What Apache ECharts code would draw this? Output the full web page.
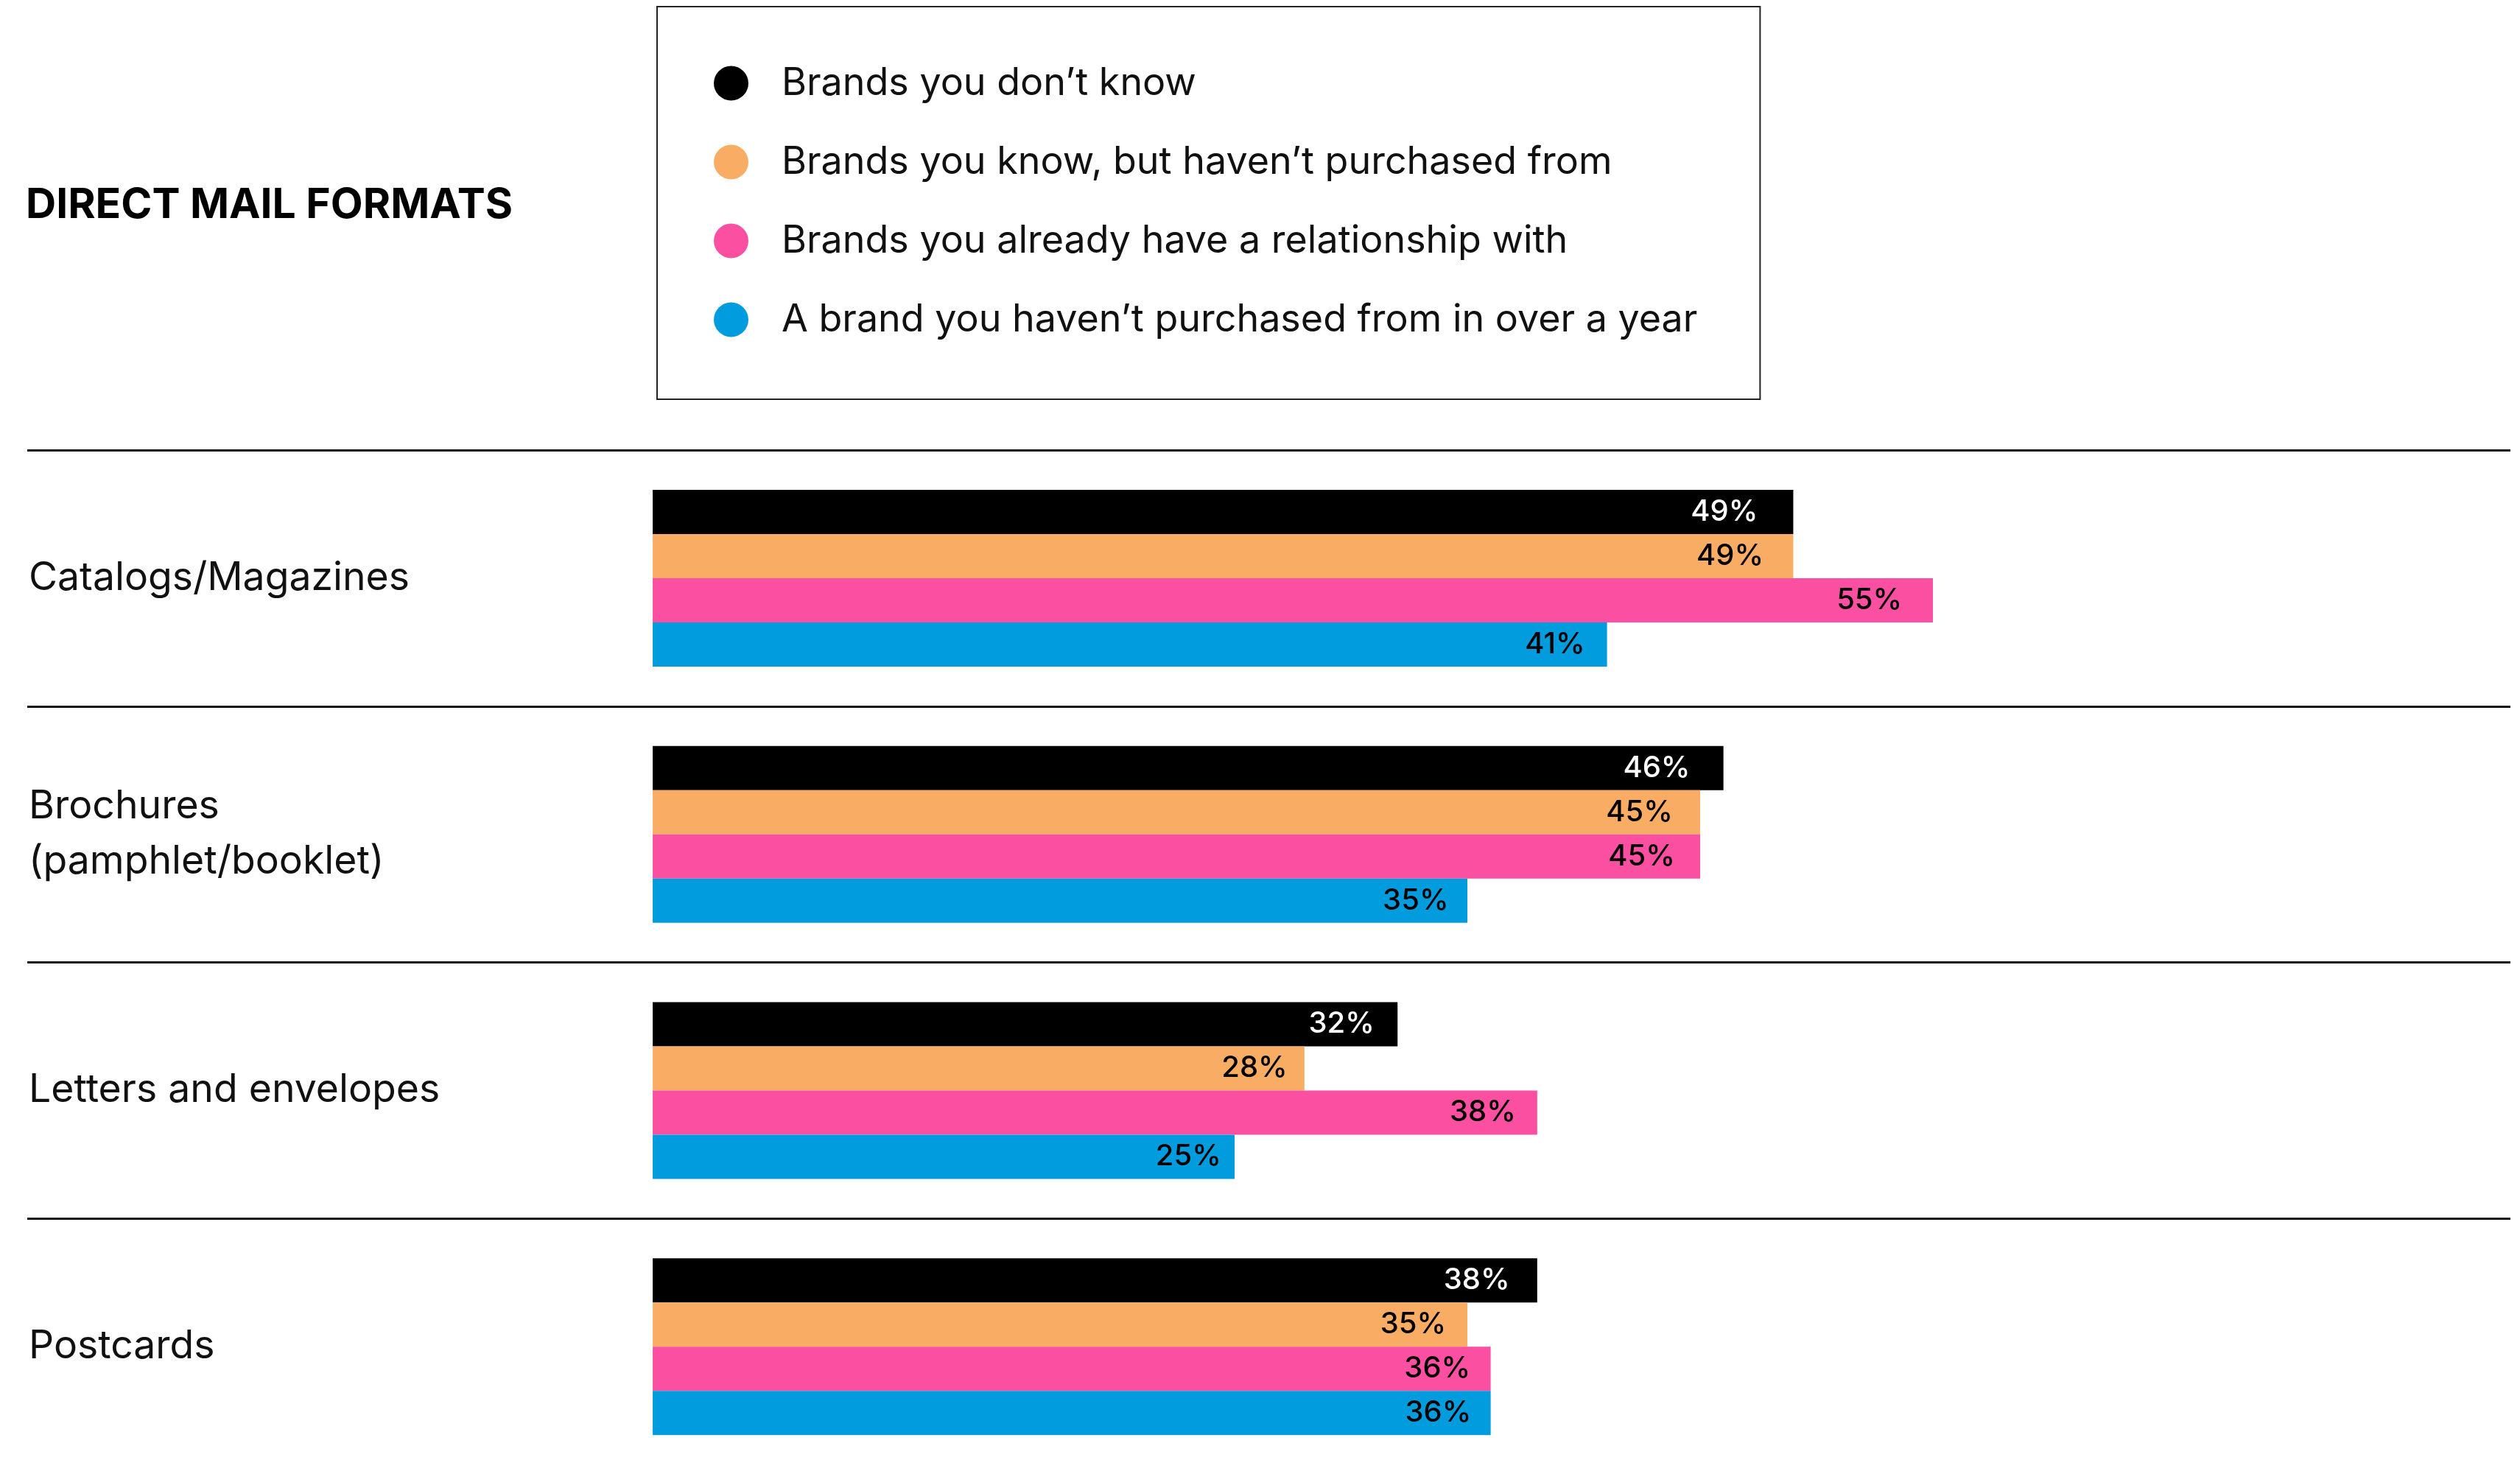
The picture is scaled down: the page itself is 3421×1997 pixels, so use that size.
<!DOCTYPE html>
<html>
<head>
<meta charset="utf-8">
<title>Direct mail formats</title>
<script src="https://cdn.jsdelivr.net/npm/echarts@6/dist/echarts.min.js"></script>
<style>
  html, body { margin: 0; padding: 0; background: #fff; }
  #chart { width: 3421px; height: 1997px; }
</style>
</head>
<body>
<div id="chart"></div>
<script>
// data
var categories = ['Catalogs/Magazines', 'Brochures\n(pamphlet/booklet)', 'Letters and envelopes', 'Postcards'];
var seriesNames = [
    'Brands you don\u2019t know',
    'Brands you know, but haven\u2019t purchased from',
    'Brands you already have a relationship with',
    'A brand you haven\u2019t purchased from in over a year'
];
var dontKnow = [49, 46, 32, 38];
var knowNotPurchased = [49, 45, 28, 35];
var relationship = [55, 45, 38, 36];
var overAYear = [41, 35, 25, 36];

var colors = ['#000000', '#F9AC63', '#FB4FA2', '#009CDE'];
var labelColors = ['#ffffff', '#000000', '#000000', '#000000'];
// label right edge sits at this share of the bar length
var labelPos = ['96.9%', '97.4%', '97.6%', '97.7%'];
var FONT = 'Inter';

var chart = echarts.init(document.getElementById('chart'));

function makeSeries(idx, values) {
    return {
        name: seriesNames[idx],
        type: 'bar',
        data: values,
        barWidth: 60,
        barGap: '0%',
        itemStyle: { color: colors[idx] },
        label: {
            show: true,
            position: [labelPos[idx], '50%'],
            align: 'right',
            verticalAlign: 'middle',
            formatter: '{c}%',
            color: labelColors[idx],
            fontFamily: FONT,
            fontSize: 40,
            fontWeight: 500
        }
    };
}

var option = {
    backgroundColor: '#ffffff',
    animation: false,
    title: {
        text: 'DIRECT MAIL FORMATS',
        left: 30,
        top: 245,
        textStyle: {
            fontFamily: FONT,
            fontSize: 57,
            fontWeight: 'bold',
            color: '#000'
        }
    },
    legend: {
        orient: 'vertical',
        left: 892,
        top: 9,
        padding: [78, 85, 82, 77],
        itemGap: 55,
        itemWidth: 47,
        itemHeight: 47,
        icon: 'circle',
        borderColor: '#222',
        borderWidth: 2,
        data: seriesNames,
        textStyle: {
            fontFamily: FONT,
            fontSize: 52,
            color: '#111',
            lineHeight: 47,
            padding: [0, 0, 0, 40]
        }
    },
    grid: {
        left: 37,
        right: 13,
        top: 611,
        height: 1391,
        outerBoundsMode: 'none',
        containLabel: false
    },
    xAxis: {
        type: 'value',
        min: -26.87,
        max: 79.81,
        show: false
    },
    yAxis: {
        type: 'category',
        inverse: true,
        data: categories,
        axisLine: { show: false },
        axisTick: { show: false },
        splitLine: {
            show: true,
            interval: 0,
            lineStyle: { color: '#111', width: 3 }
        },
        axisLabel: {
            inside: true,
            align: 'left',
            margin: 2,
            interval: 0,
            fontFamily: FONT,
            fontSize: 53.5,
            lineHeight: 75,
            color: '#111'
        }
    },
    series: [
        makeSeries(0, dontKnow),
        makeSeries(1, knowNotPurchased),
        makeSeries(2, relationship),
        makeSeries(3, overAYear)
    ]
};

chart.setOption(option);
window.onresize = chart.resize;
</script>
</body>
</html>
